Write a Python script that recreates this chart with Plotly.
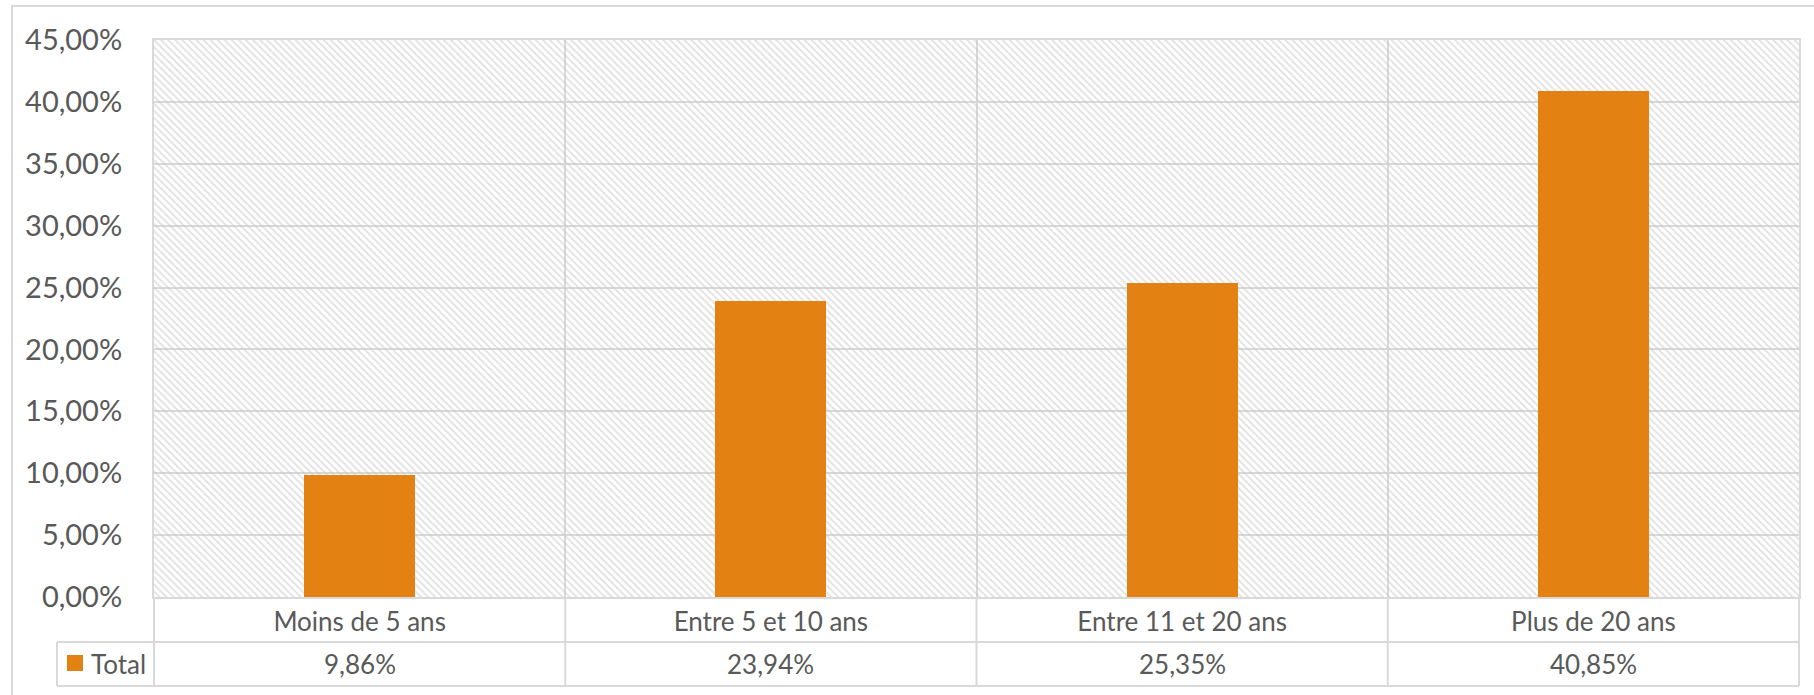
import plotly.graph_objects as go

categories = ["Moins de 5 ans", "Entre 5 et 10 ans", "Entre 11 et 20 ans", "Plus de 20 ans"]
values = [0.0986, 0.2394, 0.2535, 0.4085]
series_name = "Total"
y_max = 0.45
y_step = 0.05

BAR = "#E38213"
GRID = "#D9D9D9"
TXT = "#595959"
FONT = "Lato, 'Open Sans', sans-serif"

W, H = 1814, 695
ML, MR, MT, MB = 154, 15, 40, 98
PW = W - ML - MR
PH = H - MT - MB


def px_x(px):
    return (px - ML) / PW


def px_y(py):
    return (H - MB - py) / PH


fig = go.Figure()

# hatched plot-area background
fig.add_trace(go.Bar(
    x=[len(categories) / 2], y=[y_max], width=[len(categories)],
    xaxis="x", yaxis="y",
    marker=dict(color="rgba(0,0,0,0)", line=dict(width=0),
                pattern=dict(shape="\\", fgcolor="#C4C4C4", size=5, solidity=0.35)),
    hoverinfo="skip", showlegend=False,
))

fig.add_trace(go.Bar(
    x=categories, y=values, xaxis="x2", yaxis="y",
    width=0.27, marker=dict(color=BAR, line=dict(width=0)),
    name=series_name, showlegend=False,
))

shapes = []
line = dict(color=GRID, width=2)
y_row1 = px_y(642)
y_row2 = px_y(686)
x_leg = px_x(57)
# table horizontal lines
shapes.append(dict(type="line", xref="paper", yref="paper", x0=x_leg, x1=1, y0=y_row1, y1=y_row1, line=line, layer="below"))
shapes.append(dict(type="line", xref="paper", yref="paper", x0=x_leg, x1=1, y0=y_row2, y1=y_row2, line=line, layer="below"))
# table vertical lines
shapes.append(dict(type="line", xref="paper", yref="paper", x0=x_leg, x1=x_leg, y0=y_row1, y1=y_row2, line=line, layer="below"))
for xv in [0, 1]:
    shapes.append(dict(type="line", xref="paper", yref="paper", x0=xv, x1=xv, y0=y_row2, y1=0, line=line, layer="below"))
for i in range(1, len(categories)):
    shapes.append(dict(type="line", xref="x", yref="paper", x0=i, x1=i, y0=y_row2, y1=0, line=line, layer="below"))
# legend key
shapes.append(dict(type="rect", xref="paper", yref="paper", x0=px_x(67), x1=px_x(83), y0=px_y(671), y1=px_y(655),
                   fillcolor=BAR, line=dict(width=0)))
# outer chart border
shapes.append(dict(type="rect", xref="paper", yref="paper", x0=px_x(12), x1=px_x(1830), y0=px_y(710), y1=px_y(6),
                   line=dict(color=GRID, width=2), fillcolor="rgba(0,0,0,0)", layer="below"))

annotations = []
for c, v in zip(categories, values):
    annotations.append(dict(
        x=c, xref="x2", y=px_y(664), yref="paper", showarrow=False,
        text=f"{v*100:.2f}%".replace(".", ","),
        font=dict(family=FONT, size=26, color=TXT), xanchor="center", yanchor="middle",
    ))
annotations.append(dict(
    x=px_x(89), xref="paper", y=px_y(664), yref="paper", showarrow=False,
    text=series_name, font=dict(family=FONT, size=26, color=TXT), xanchor="left", yanchor="middle",
))

fig.update_layout(
    width=W, height=H,
    margin=dict(l=ML, r=MR, t=MT, b=MB, pad=0),
    paper_bgcolor="white", plot_bgcolor="white",
    separators=", ",
    barmode="overlay",
    bargap=0,
    font=dict(family=FONT, color=TXT),
    xaxis=dict(range=[0, len(categories)], showgrid=True, gridcolor=GRID, gridwidth=2,
               tick0=0, dtick=1, showticklabels=False, zeroline=False,
               showline=True, mirror=True, linecolor=GRID, linewidth=2, fixedrange=True),
    xaxis2=dict(overlaying="x", side="bottom", type="category", range=[-0.5, len(categories) - 0.5],
                showgrid=False, zeroline=False, showline=False,
                tickfont=dict(family=FONT, size=26, color=TXT),
                ticks="outside", ticklen=0, ticklabelstandoff=2),
    yaxis=dict(range=[0, y_max], dtick=y_step, tick0=0, tickformat=".2%",
               showgrid=True, gridcolor=GRID, gridwidth=2, zeroline=False,
               showline=True, mirror=True, linecolor=GRID, linewidth=2,
               tickfont=dict(family=FONT, size=29, color=TXT),
               ticks="outside", ticklen=0, ticklabelstandoff=24),
    shapes=shapes,
    annotations=annotations,
)

fig.write_html("out.html", config={"displayModeBar": False},
               post_script="document.body.style.margin='0';document.body.style.overflow='hidden';")
